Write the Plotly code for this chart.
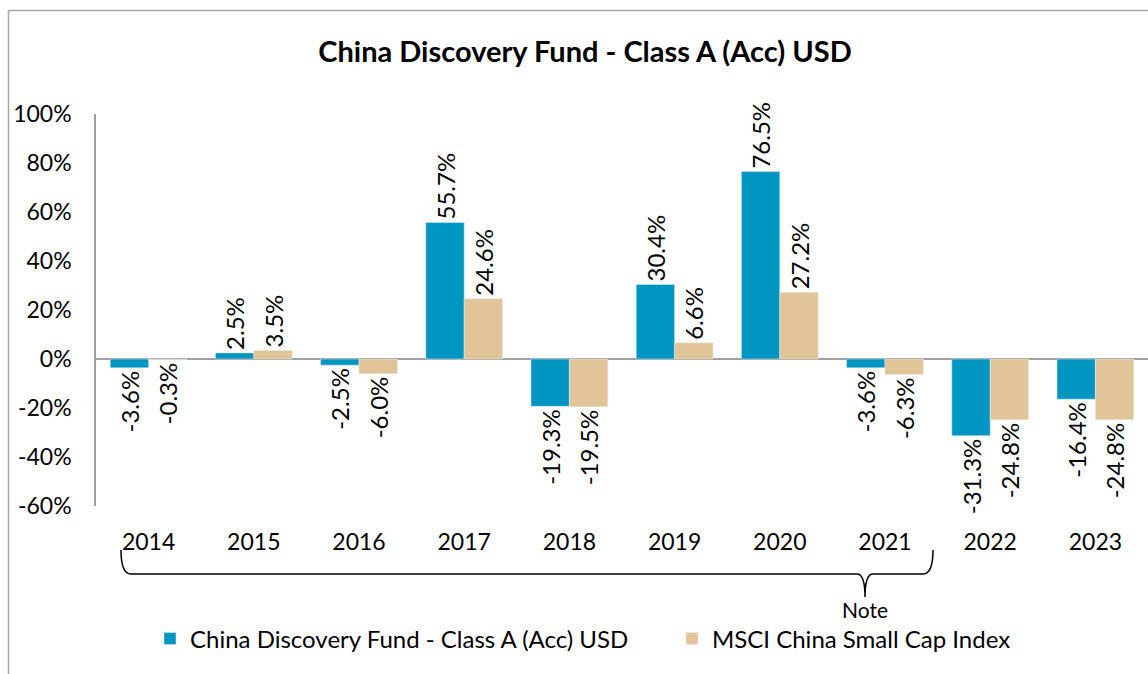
import plotly.graph_objects as go

years = ["2014", "2015", "2016", "2017", "2018", "2019", "2020", "2021", "2022", "2023"]
fund = [-3.6, 2.5, -2.5, 55.7, -19.3, 30.4, 76.5, -3.6, -31.3, -16.4]
index = [-0.3, 3.5, -6.0, 24.6, -19.5, 6.6, 27.2, -6.3, -24.8, -24.8]
fund_name = "China Discovery Fund - Class A (Acc) USD"
index_name = "MSCI China Small Cap Index"
title = "China Discovery Fund - Class A (Acc) USD"
y_ticks = [-60, -40, -20, 0, 20, 40, 60, 80, 100]

FONT = "Lato, Carlito, Calibri, sans-serif"
W, H = 1148, 674
L, R, T, B = 96, 0, 114, 168
PW, PH = W - L - R, H - T - B


def px(x):
    return (x - L) / PW


def py(y):
    return (H - B - y) / PH


fig = go.Figure()
fig.add_trace(go.Bar(
    x=years, y=fund, name=fund_name, marker_color="#0096C1", legend="legend",
    text=[f"{v:.1f}%" for v in fund], textposition="outside", textangle=-90,
    textfont=dict(size=24, color="#000000", family=FONT), cliponaxis=False,
    constraintext="none",
))
fig.add_trace(go.Bar(
    x=years, y=index, name=index_name, marker_color="#E1C498", legend="legend2",
    text=[f"{v:.1f}%" for v in index], textposition="outside", textangle=-90,
    textfont=dict(size=24, color="#000000", family=FONT), cliponaxis=False,
    constraintext="none",
))

shapes = []
# outer chart border (cropped)
shapes.append(dict(type="path", xref="paper", yref="paper",
                   path=f"M {px(8.5)},{py(700)} L {px(8.5)},{py(10.5)} L {px(1160)},{py(10.5)}",
                   line=dict(color="#A6A6A6", width=1.5)))
# brace
bx0, bx1, bc = 121, 933, 865
ytop, ymid, ybot = 550, 574, 597
path = (f"M {px(bx0)},{py(ytop)} Q {px(bx0)},{py(ymid)} {px(bx0 + 10)},{py(ymid)} "
        f"L {px(bc - 8)},{py(ymid)} Q {px(bc)},{py(ymid)} {px(bc)},{py(ybot)} "
        f"Q {px(bc)},{py(ymid)} {px(bc + 8)},{py(ymid)} "
        f"L {px(bx1 - 10)},{py(ymid)} Q {px(bx1)},{py(ymid)} {px(bx1)},{py(ytop)}")
shapes.append(dict(type="path", xref="paper", yref="paper", path=path,
                   line=dict(color="#000000", width=1.5)))

leg_common = dict(orientation="h", yanchor="middle", y=py(639), xanchor="left",
                  font=dict(size=24, family=FONT, color="#000000"),
                  bgcolor="rgba(0,0,0,0)")

fig.update_layout(
    width=W, height=H,
    margin=dict(l=L, r=R, t=T, b=B),
    paper_bgcolor="white", plot_bgcolor="white",
    font=dict(family=FONT, size=23, color="#000000"),
    title=dict(text=f"<b>{title}</b>", x=585 / W, xanchor="center",
               y=1 - 52 / H, yanchor="middle",
               font=dict(size=29, family=FONT, color="#000000")),
    barmode="group", bargap=0.27, bargroupgap=0,
    showlegend=True,
    legend=dict(x=px(150), **leg_common),
    legend2=dict(x=px(672), **leg_common),
    shapes=shapes,
    annotations=[dict(text="Note", xref="paper", yref="paper", x=px(bc), y=py(609),
                      xanchor="center", yanchor="middle", showarrow=False,
                      font=dict(size=21, family=FONT))],
    xaxis=dict(showline=False, ticks="", showgrid=False, ticklabelstandoff=20,
               tickfont=dict(size=23)),
    yaxis=dict(range=[-60, 100], tickvals=y_ticks, ticktext=[f"{v}%" for v in y_ticks],
               showgrid=False, zeroline=True, zerolinecolor="#A0A0A0", zerolinewidth=2,
               showline=True, linecolor="#A0A0A0", linewidth=1.5, ticks="",
               ticklabelstandoff=18, tickfont=dict(size=23)),
)

fig.write_html("out.html")
